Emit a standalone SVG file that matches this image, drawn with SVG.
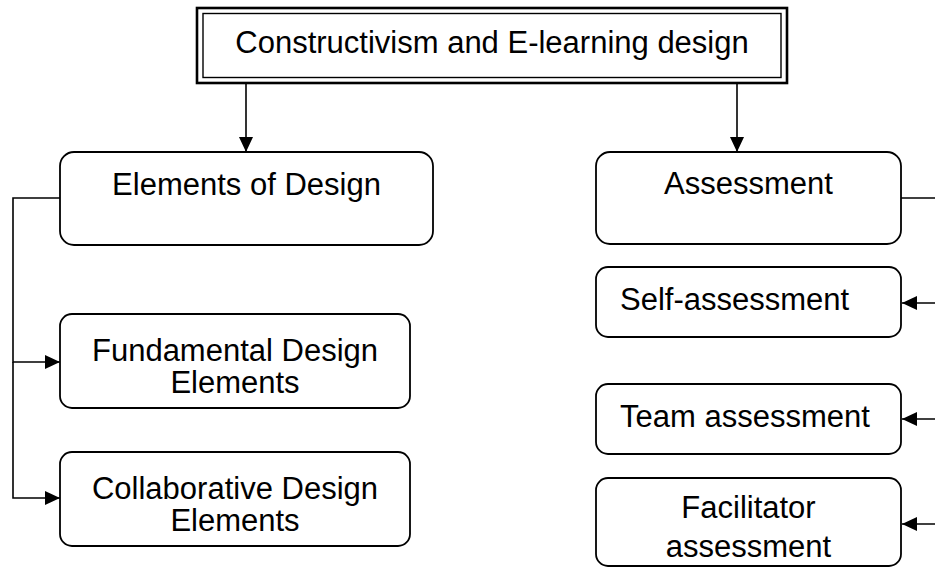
<svg xmlns="http://www.w3.org/2000/svg" width="935" height="568" viewBox="0 0 935 568">
<style>
.box{fill:#fff;stroke:#000;stroke-width:1.8}
.t{font-family:"Liberation Sans",Arial,sans-serif;font-size:31px;fill:#000}
.c{text-anchor:middle}
.ln{fill:none;stroke:#000;stroke-width:1.6}
</style>
<defs>
<marker id="ah" markerUnits="userSpaceOnUse" markerWidth="15" markerHeight="14" refX="15" refY="7" orient="auto">
<path d="M0,0 L15,7 L0,14 z" fill="#000"/>
</marker>
</defs>
<g id="connectors">
<line class="ln" x1="246" y1="83" x2="246" y2="152" marker-end="url(#ah)"/>
<line class="ln" x1="737" y1="83" x2="737" y2="152" marker-end="url(#ah)"/>
<polyline class="ln" points="60,198 13,198 13,362 60,362" marker-end="url(#ah)"/>
<polyline class="ln" points="13,362 13,498 60,498" marker-end="url(#ah)"/>
<line class="ln" x1="901" y1="198" x2="935" y2="198"/>
<line class="ln" x1="935" y1="303" x2="902" y2="303" marker-end="url(#ah)"/>
<line class="ln" x1="935" y1="419" x2="902" y2="419" marker-end="url(#ah)"/>
<line class="ln" x1="935" y1="524" x2="902" y2="524" marker-end="url(#ah)"/>
</g>
<g id="title">
<rect x="197" y="8" width="590" height="75" fill="#fff" stroke="#000" stroke-width="2.6"/>
<rect x="203" y="13.5" width="578" height="64" fill="none" stroke="#000" stroke-width="1.4"/>
<text class="t c" x="492" y="53">Constructivism and E-learning design</text>
</g>
<g id="elements-of-design">
<rect class="box" x="60" y="152" width="373" height="93" rx="14"/>
<text class="t c" x="246.5" y="195">Elements of Design</text>
</g>
<g id="fundamental">
<rect class="box" x="60" y="314" width="350" height="94" rx="12"/>
<text class="t c" x="235" y="361">Fundamental Design</text>
<text class="t c" x="235" y="393">Elements</text>
</g>
<g id="collaborative">
<rect class="box" x="60" y="452" width="350" height="94" rx="12"/>
<text class="t c" x="235" y="499">Collaborative Design</text>
<text class="t c" x="235" y="531">Elements</text>
</g>
<g id="assessment">
<rect class="box" x="596" y="152" width="305" height="92" rx="14"/>
<text class="t c" x="748.5" y="194">Assessment</text>
</g>
<g id="self-assessment">
<rect class="box" x="596" y="267" width="305" height="70" rx="12"/>
<text class="t" x="620" y="310">Self-assessment</text>
</g>
<g id="team-assessment">
<rect class="box" x="596" y="384" width="305" height="70" rx="12"/>
<text class="t" x="620" y="427">Team assessment</text>
</g>
<g id="facilitator-assessment">
<rect class="box" x="596" y="478" width="305" height="88" rx="12"/>
<text class="t c" x="748.5" y="518">Facilitator</text>
<text class="t c" x="748.5" y="557">assessment</text>
</g>
</svg>
